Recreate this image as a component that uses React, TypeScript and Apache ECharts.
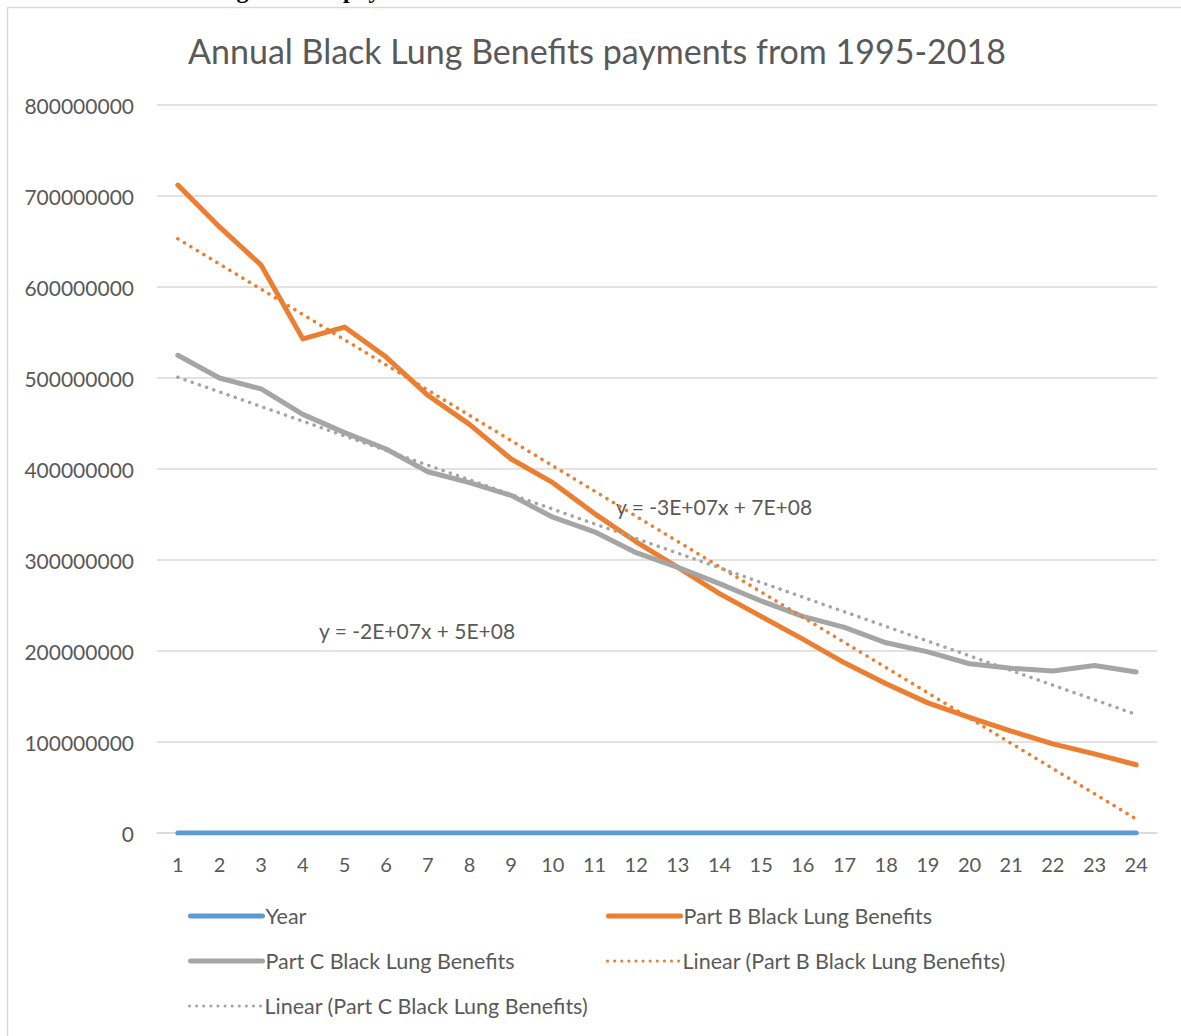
import React, { useEffect, useRef } from "react";
import * as echarts from "echarts";

const categories = ["1","2","3","4","5","6","7","8","9","10","11","12","13","14","15","16","17","18","19","20","21","22","23","24"];
const years = [1995,1996,1997,1998,1999,2000,2001,2002,2003,2004,2005,2006,2007,2008,2009,2010,2011,2012,2013,2014,2015,2016,2017,2018];
const partB = [712e6,666e6,624e6,543e6,556e6,523e6,481e6,449e6,411e6,385e6,351e6,320e6,292e6,263e6,238e6,213e6,187e6,164e6,143e6,127e6,112e6,98e6,87e6,75e6];
const partC = [525e6,500e6,488e6,460e6,440e6,422e6,397e6,385e6,371e6,347e6,331e6,308e6,292e6,274e6,255e6,238e6,226e6,209e6,199e6,186e6,181e6,178e6,184e6,177e6];
const yTicks = { min: 0, max: 800000000, interval: 100000000 };
const titleText = "Annual Black Lung Benefits payments from 1995-2018";
const eqB = "y = -3E+07x + 7E+08";
const eqC = "y = -2E+07x + 5E+08";
const names = ["Year", "Part B Black Lung Benefits", "Part C Black Lung Benefits", "Linear (Part B Black Lung Benefits)", "Linear (Part C Black Lung Benefits)"];

// least-squares trendline (as Excel's linear trendline)
function linearFit(vals: number[]): number[] {
  const n = vals.length;
  const xs = vals.map((_, i) => i + 1);
  const mx = xs.reduce((a, b) => a + b, 0) / n;
  const my = vals.reduce((a, b) => a + b, 0) / n;
  let sxy = 0, sxx = 0;
  for (let i = 0; i < n; i++) { sxy += (xs[i] - mx) * (vals[i] - my); sxx += (xs[i] - mx) ** 2; }
  const slope = sxy / sxx;
  return xs.map((x) => my + slope * (x - mx));
}

const FONT = "Lato";
const GREY_TEXT = "#595959";
const BLUE = "#5b9bd5";
const ORANGE = "#ed7d31";
const GREY = "#a5a5a5";

export default function App() {
  const ref = useRef<HTMLDivElement>(null);
  useEffect(() => {
    if (!ref.current) return;
    const chart = echarts.init(ref.current, null, { renderer: "svg" });
    const dotted = { type: [0.1, 7.5], cap: "round" as const, width: 3.5 };
    const legendCfg = [
      { left: 188, top: 905, color: BLUE, dot: false },
      { left: 606, top: 905, color: ORANGE, dot: false },
      { left: 188, top: 950, color: GREY, dot: false },
      { left: 606, top: 950, color: ORANGE, dot: true },
      { left: 188, top: 995, color: GREY, dot: true },
    ];
    chart.setOption({
      animation: false,
      backgroundColor: "#ffffff",
      title: {
        text: titleText,
        left: 592,
        top: 28,
        textAlign: "center",
        textStyle: { fontFamily: FONT, fontSize: 34, fontWeight: "normal", color: GREY_TEXT },
      },
      graphic: [
        {
          type: "rect",
          shape: { x: 7.5, y: 7.5, width: 1300, height: 1200 },
          style: { fill: "none", stroke: "#d9d9d9", lineWidth: 1.5 },
          silent: true,
        },
        {
          type: "text",
          x: 47,
          y: 2,
          style: {
            text: "Annual Black Lung Benefits payments",
            font: "bold 24px 'Liberation Serif'",
            fill: "#000",
            verticalAlign: "bottom",
          },
          silent: true,
        },
        {
          type: "text",
          x: 616,
          y: 506,
          style: { text: eqB, fontFamily: FONT, fontSize: 21, fill: GREY_TEXT, verticalAlign: "middle" },
          silent: true,
        },
        {
          type: "text",
          x: 319,
          y: 630,
          style: { text: eqC, fontFamily: FONT, fontSize: 21, fill: GREY_TEXT, verticalAlign: "middle" },
          silent: true,
        },
      ],
      legend: names.map((nm, i) => ({
        data: [nm],
        left: legendCfg[i].left,
        top: legendCfg[i].top,
        padding: 0,
        itemWidth: 72,
        itemHeight: 20,
        itemGap: 0,
        selectedMode: false,
        itemStyle: { opacity: 0, borderWidth: 0 },
        lineStyle: legendCfg[i].dot
          ? { color: legendCfg[i].color, width: 3, type: [0.1, 7], cap: "round" }
          : { color: legendCfg[i].color, width: 5, type: "solid", cap: "round" },
        textStyle: { fontFamily: FONT, fontSize: 21.5, color: GREY_TEXT, padding: [0, 0, 0, -2] },
      })),
      grid: { left: 157, right: 24, top: 105, bottom: 203, containLabel: false },
      xAxis: {
        type: "category",
        data: categories,
        boundaryGap: true,
        axisLine: { show: true, lineStyle: { color: "#d9d9d9", width: 1.5 } },
        axisTick: { show: false },
        axisLabel: { fontFamily: FONT, fontSize: 20, color: GREY_TEXT, margin: 21 },
      },
      yAxis: {
        type: "value",
        min: yTicks.min,
        max: yTicks.max,
        interval: yTicks.interval,
        axisLine: { show: false },
        axisTick: { show: false },
        splitLine: { lineStyle: { color: "#d9d9d9", width: 1.5 } },
        axisLabel: { fontFamily: FONT, fontSize: 21, color: GREY_TEXT, margin: 23, formatter: (v: number) => String(v) },
      },
      series: [
        {
          name: names[0], type: "line", data: years, symbol: "none",
          lineStyle: { color: BLUE, width: 5, cap: "round" }, itemStyle: { color: BLUE },
        },
        {
          name: names[1], type: "line", data: partB, symbol: "none",
          lineStyle: { color: ORANGE, width: 5, cap: "round", join: "round" }, itemStyle: { color: ORANGE },
        },
        {
          name: names[2], type: "line", data: partC, symbol: "none",
          lineStyle: { color: GREY, width: 5, cap: "round", join: "round" }, itemStyle: { color: GREY },
        },
        {
          name: names[3], type: "line", data: linearFit(partB), symbol: "none",
          lineStyle: { color: ORANGE, ...dotted }, itemStyle: { color: ORANGE },
        },
        {
          name: names[4], type: "line", data: linearFit(partC), symbol: "none",
          lineStyle: { color: GREY, ...dotted }, itemStyle: { color: GREY },
        },
      ],
    });
    return () => chart.dispose();
  }, []);
  return <div ref={ref} style={{ position: "absolute", left: 0, top: 0, width: 1181, height: 1036 }} />;
}
